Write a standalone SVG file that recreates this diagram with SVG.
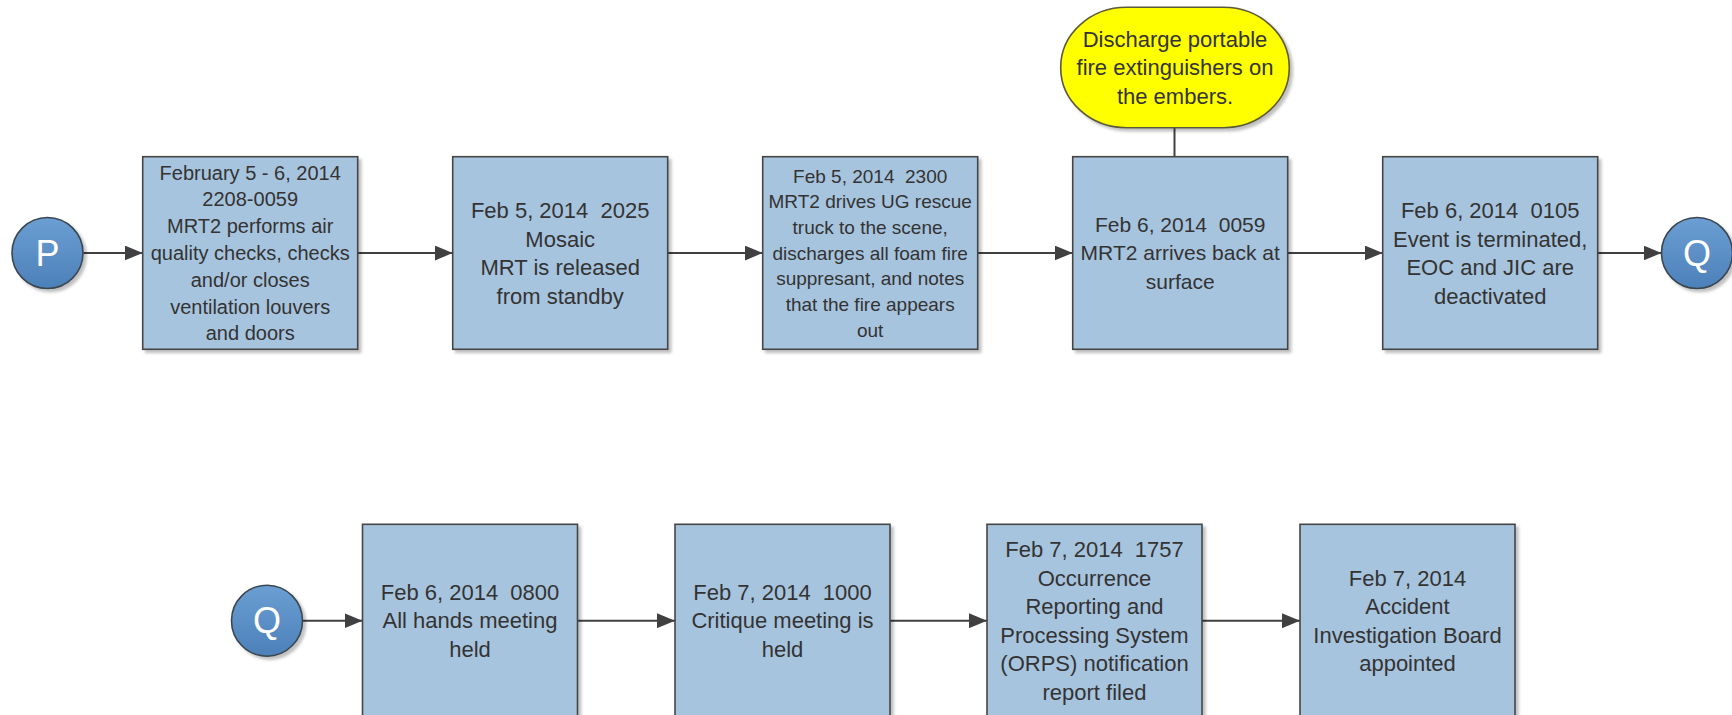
<svg xmlns="http://www.w3.org/2000/svg" width="1732" height="715" viewBox="0 0 1732 715">
<style>
.box{fill:#a7c4de;stroke:#454545;stroke-width:1.6}
.circ{fill:url(#cg);stroke:#3b4650;stroke-width:1.6}
.term{fill:#ffff00;stroke:#5a5a3a;stroke-width:1.6}
.t{font-family:"Liberation Sans",Arial,sans-serif;fill:#333333;text-anchor:middle;white-space:pre}
.t22{font-size:22px}
.t21{font-size:21px}
.t20{font-size:20px}
.t19{font-size:19px}
.lt{font-family:"Liberation Sans",Arial,sans-serif;fill:#ffffff;text-anchor:middle;font-size:36px}
.conn{stroke:#404040;stroke-width:2;fill:none}
</style>
<defs>
<linearGradient id="cg" x1="0" y1="0" x2="0" y2="1">
<stop offset="0" stop-color="#6b9fd3"/>
<stop offset="1" stop-color="#4c80b9"/>
</linearGradient>
<filter id="sh" x="-10%" y="-10%" width="130%" height="130%">
<feGaussianBlur in="SourceAlpha" stdDeviation="1.5"/>
<feOffset dx="3" dy="3" result="b"/>
<feComponentTransfer><feFuncA type="linear" slope="0.25"/></feComponentTransfer>
<feMerge><feMergeNode/><feMergeNode in="SourceGraphic"/></feMerge>
</filter>
<marker id="ah" markerUnits="userSpaceOnUse" viewBox="0 0 18 15" refX="18" refY="7.5" markerWidth="18" markerHeight="15" orient="auto">
<path d="M0,0 L18,7.5 L0,15 z" fill="#404040"/>
</marker>
</defs>
<rect width="1732" height="715" fill="#ffffff"/>

<g id="connectors">
<line class="conn" x1="83.5" y1="253" x2="142.7" y2="253" marker-end="url(#ah)"/>
<line class="conn" x1="357.7" y1="253" x2="452.7" y2="253" marker-end="url(#ah)"/>
<line class="conn" x1="667.7" y1="253" x2="762.7" y2="253" marker-end="url(#ah)"/>
<line class="conn" x1="977.7" y1="253" x2="1072.7" y2="253" marker-end="url(#ah)"/>
<line class="conn" x1="1287.7" y1="253" x2="1382.7" y2="253" marker-end="url(#ah)"/>
<line class="conn" x1="1597.7" y1="253" x2="1661.5" y2="253" marker-end="url(#ah)"/>
<line class="conn" x1="1174.5" y1="127.7" x2="1174.5" y2="156.7"/>
<line class="conn" x1="303" y1="620.7" x2="362.5" y2="620.7" marker-end="url(#ah)"/>
<line class="conn" x1="577.5" y1="620.7" x2="675" y2="620.7" marker-end="url(#ah)"/>
<line class="conn" x1="890" y1="620.7" x2="987" y2="620.7" marker-end="url(#ah)"/>
<line class="conn" x1="1202" y1="620.7" x2="1300" y2="620.7" marker-end="url(#ah)"/>
</g>

<g id="nodeP">
<circle class="circ" cx="47.5" cy="253" r="35.5" filter="url(#sh)"/>
<text class="lt" x="47.5" y="265.5">P</text>
</g>

<g id="node1">
<rect class="box" x="142.7" y="156.7" width="215" height="192.6" filter="url(#sh)"/>
<text class="t t20" xml:space="preserve"><tspan x="250.2" y="179.6">February 5 - 6, 2014</tspan><tspan x="250.2" y="206.4">2208-0059</tspan><tspan x="250.2" y="233.2">MRT2 performs air</tspan><tspan x="250.2" y="260">quality checks, checks</tspan><tspan x="250.2" y="286.8">and/or closes</tspan><tspan x="250.2" y="313.6">ventilation louvers</tspan><tspan x="250.2" y="340.4">and doors</tspan></text>
</g>

<g id="node2">
<rect class="box" x="452.7" y="156.7" width="215" height="192.6" filter="url(#sh)"/>
<text class="t t22" xml:space="preserve"><tspan x="560.2" y="218">Feb 5, 2014  2025</tspan><tspan x="560.2" y="246.5">Mosaic</tspan><tspan x="560.2" y="275">MRT is released</tspan><tspan x="560.2" y="303.5">from standby</tspan></text>
</g>

<g id="node3">
<rect class="box" x="762.7" y="156.7" width="215" height="192.6" filter="url(#sh)"/>
<text class="t t19" xml:space="preserve"><tspan x="870.2" y="182.6">Feb 5, 2014  2300</tspan><tspan x="870.2" y="208.3">MRT2 drives UG rescue</tspan><tspan x="870.2" y="234">truck to the scene,</tspan><tspan x="870.2" y="259.7">discharges all foam fire</tspan><tspan x="870.2" y="285.4">suppresant, and notes</tspan><tspan x="870.2" y="311.1">that the fire appears</tspan><tspan x="870.2" y="336.8">out</tspan></text>
</g>

<g id="node4">
<rect class="box" x="1072.7" y="156.7" width="215" height="192.6" filter="url(#sh)"/>
<text class="t t21" xml:space="preserve"><tspan x="1180.2" y="232">Feb 6, 2014  0059</tspan><tspan x="1180.2" y="260.4">MRT2 arrives back at</tspan><tspan x="1180.2" y="288.8">surface</tspan></text>
</g>

<g id="node5">
<rect class="box" x="1382.7" y="156.7" width="215" height="192.6" filter="url(#sh)"/>
<text class="t t22" xml:space="preserve"><tspan x="1490.2" y="218">Feb 6, 2014  0105</tspan><tspan x="1490.2" y="246.5">Event is terminated,</tspan><tspan x="1490.2" y="275">EOC and JIC are</tspan><tspan x="1490.2" y="303.5">deactivated</tspan></text>
</g>

<g id="nodeQ1">
<circle class="circ" cx="1697" cy="253" r="35.5" filter="url(#sh)"/>
<text class="lt" x="1697" y="265.5">Q</text>
</g>

<g id="note">
<rect class="term" x="1060.7" y="7.3" width="228.6" height="120.4" rx="66" ry="60" filter="url(#sh)"/>
<text class="t t22" xml:space="preserve"><tspan x="1175" y="46.5">Discharge portable</tspan><tspan x="1175" y="75.2">fire extinguishers on</tspan><tspan x="1175" y="103.9">the embers.</tspan></text>
</g>

<g id="nodeQ2">
<circle class="circ" cx="267" cy="620.7" r="35.5" filter="url(#sh)"/>
<text class="lt" x="267" y="633.2">Q</text>
</g>

<g id="node6">
<rect class="box" x="362.5" y="524.3" width="215" height="193" filter="url(#sh)"/>
<text class="t t22" xml:space="preserve"><tspan x="470" y="599.9">Feb 6, 2014  0800</tspan><tspan x="470" y="628.4">All hands meeting</tspan><tspan x="470" y="656.9">held</tspan></text>
</g>

<g id="node7">
<rect class="box" x="675" y="524.3" width="215" height="193" filter="url(#sh)"/>
<text class="t t22" xml:space="preserve"><tspan x="782.5" y="599.9">Feb 7, 2014  1000</tspan><tspan x="782.5" y="628.4">Critique meeting is</tspan><tspan x="782.5" y="656.9">held</tspan></text>
</g>

<g id="node8">
<rect class="box" x="987" y="524.3" width="215" height="193" filter="url(#sh)"/>
<text class="t t22" xml:space="preserve"><tspan x="1094.5" y="557.2">Feb 7, 2014  1757</tspan><tspan x="1094.5" y="585.7">Occurrence</tspan><tspan x="1094.5" y="614.2">Reporting and</tspan><tspan x="1094.5" y="642.7">Processing System</tspan><tspan x="1094.5" y="671.2">(ORPS) notification</tspan><tspan x="1094.5" y="699.7">report filed</tspan></text>
</g>

<g id="node9">
<rect class="box" x="1300" y="524.3" width="215" height="193" filter="url(#sh)"/>
<text class="t t22" xml:space="preserve"><tspan x="1407.5" y="585.7">Feb 7, 2014</tspan><tspan x="1407.5" y="614.2">Accident</tspan><tspan x="1407.5" y="642.7">Investigation Board</tspan><tspan x="1407.5" y="671.2">appointed</tspan></text>
</g>
</svg>
